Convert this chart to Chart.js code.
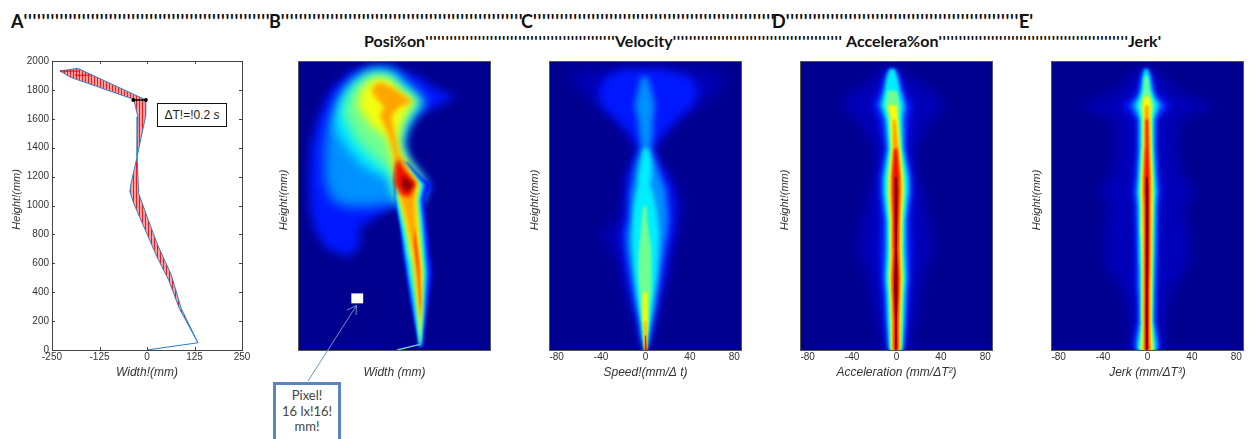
<!DOCTYPE html>
<html>
<head>
<meta charset="utf-8">
<title>Position, velocity, acceleration, jerk</title>
<script src="https://cdn.jsdelivr.net/npm/chart.js@4"></script>
<style>
  html, body { margin: 0; padding: 0; background: #fff; width: 1249px; height: 439px; overflow: hidden; }
  canvas { position: absolute; }
  .head { position: absolute; font-family: Lato, sans-serif; font-weight: 700; color: #111; white-space: pre; }
  .row1 { font-size: 18px; line-height: 20px; top: 11px; }
  .row2 { font-size: 16px; line-height: 20px; top: 31px; }
  .row1 span { letter-spacing: 0.68px; }
  .row2 span { letter-spacing: 0.66px; }
  #dtBox { position: absolute; left: 157px; top: 103px; width: 68px; height: 22px; border: 1px solid #111; background: #fff;
    font: 12px/22px "Liberation Sans", sans-serif; color: #222; text-align: center; white-space: pre; }
  #pixelBox { position: absolute; left: 273px; top: 382px; width: 62px; height: 60px; border: 3px solid #5b85bd; background: #fff;
    font: 13px/15.5px Lato, sans-serif; color: #444; text-align: center; padding-top: 3px; }
  svg { position: absolute; left: 0; top: 0; }
</style>
</head>
<body>
<canvas id="widthChart" width="248" height="329" style="left:10px;top:51px"></canvas>
<canvas id="positionChart" width="219" height="329" style="left:277px;top:51px"></canvas>
<canvas id="velocityChart" width="219" height="329" style="left:528px;top:51px"></canvas>
<canvas id="accelerationChart" width="220" height="329" style="left:778px;top:51px"></canvas>
<canvas id="jerkChart" width="219" height="329" style="left:1030px;top:51px"></canvas>
<div id="heads"></div>
<div id="dtBox">ΔT!=!0.2 <i>s</i></div>
<svg width="1249" height="439">
  <path d="M308 381 L356.5 305.5 M347 310 L356.5 305.5 L356 315" fill="none" stroke="#6a93c6" stroke-width="1"/>
</svg>
<div id="pixelBox">Pixel!<br>16 lx!16!<br>mm!</div>

<script>
// header text, garbled quote runs are in the source picture too
const row1Labels = ["A", "B", "C", "D", "E"];
const row1Starts = [11, 269, 521, 772, 1019];
const row1Quotes = [55, 54, 54, 53, 1];
const row2Labels = ["Posi%on", "Velocity", "Accelera%on", "Jerk"];
const row2Starts = [364, 615, 846, 1128];
const row2Quotes = [47, 42, 47, 1];

// panel A, outline of the trajectory band
const rightX = [0, 134, 90, 64, 28, 0, -22, -26, -17, -3, -3, -182, -229];
const rightY = [0, 50, 288, 519, 727, 923, 1084, 1338, 1453, 1626, 1730, 1949, 1931];
const leftX = [-229, -201, -35, -24, -26, -42, -45, -35, 26, 57, 85, 134];
const leftY = [1931, 1887, 1735, 1615, 1338, 1153, 1096, 1015, 646, 484, 288, 50];
const spanX = [-36, -3];
const spanY = [1730, 1730];
const tipRedX = [-229, -178];
const tipRedY = [1930, 1930];
const tipRed2X = [-190, -148];
const tipRed2Y = [1902, 1902];

// panel B, soft contour levels of the upper body (mm)
const bBlueX = [-122, -178, -209, -222, -224, -220, -200, -165, -117, -56, -4, 57, 110, 162, 105, 57, 31, 27, 40, 79, 96, 79, -4, -91, -91];
const bBlueY = [647, 705, 832, 994, 1179, 1410, 1618, 1815, 1931, 1977, 1965, 1907, 1815, 1757, 1688, 1630, 1503, 1410, 1295, 1191, 1156, 1040, 994, 855, 717];
const bAzureX = [-126, -165, -183, -183, -174, -139, -91, -48, -4, 31, 83, 57, 31, 18, 35, 75, 79, 70, 0, -56];
const bAzureY = [994, 1040, 1179, 1387, 1572, 1780, 1907, 1954, 1942, 1850, 1711, 1653, 1549, 1433, 1295, 1179, 1133, 1040, 1017, 994];
const bCyanX = [-17, -82, -126, -157, -148, -109, -56, -8, 22, 75, 53, 27, 14, 31, 70, 75, 66, 5];
const bCyanY = [1191, 1272, 1410, 1549, 1711, 1861, 1937, 1931, 1850, 1722, 1665, 1549, 1433, 1306, 1179, 1144, 1040, 1040];
const bGreenX = [-8, -48, -100, -135, -118, -70, -13, 18, 64, 48, 22, 12, 29, 66, 70, 62, 9];
const bGreenY = [1225, 1318, 1457, 1642, 1800, 1915, 1896, 1815, 1722, 1676, 1561, 1433, 1318, 1179, 1144, 1040, 1040];
const bYellowX = [0, -21, -60, -95, -90, -55, -17, 14, 57, 40, 18, 9, 22, 62, 64, 57, 14];
const bYellowY = [1272, 1480, 1550, 1690, 1800, 1890, 1890, 1803, 1722, 1688, 1572, 1433, 1341, 1179, 1144, 1040, 1040];

// panel B, sharper stem below the hips, left and right edge per height
const stemRows = [25, 230, 350, 530, 600, 670, 760, 855, 1040, 1150, 1200, 1300];
const stemBlueL = [64, 50, 40, 30, 26, 22, 18, 16, 2, 0, 0, 8];
const stemBlueR = [75, 83, 90, 99, 96, 92, 90, 86, 79, 96, 70, 35];
const stemAzureL = [66, 52, 44, 34, 30, 26, 22, 18, 4, 2, 0, 8];
const stemAzureR = [70, 79, 83, 88, 86, 83, 80, 77, 70, 79, 62, 30];
const stemCyanL = [66, 55, 50, 38, 35, 30, 25, 18, 6, 4, 2, 10];
const stemCyanR = [68, 75, 78, 82, 80, 78, 76, 73, 66, 75, 58, 27];
const stemGreenL = [67, 60, 55, 44, 41, 35, 30, 24, 9, 7, 4, 10];
const stemGreenR = [68, 72, 74, 77, 75, 73, 71, 68, 62, 70, 54, 24];
const stemYellowL = [68, 64, 59, 53, 50, 43, 38, 31, 14, 10, 6, 12];
const stemYellowR = [68, 70, 71, 73, 71, 69, 66, 63, 57, 64, 50, 20];

const bOrangeX = [-61, -39, -4, 47, 14, -8, 0, 12, 57, 53, 59, 69, 69, 67, 57, 50, 35, 18, 0, 0, -17, -39, -26, -48];
const bOrangeY = [1815, 1861, 1822, 1722, 1688, 1630, 1503, 1364, 1168, 1040, 763, 532, 231, 139, 462, 670, 855, 1040, 1225, 1341, 1503, 1630, 1688, 1746];
const bRedX = [9, 27, 57, 40, 18, 0, 3];
const bRedY = [1329, 1248, 1156, 1064, 1075, 1156, 1272];
const bStemX = [53, 64, 69, 68, 61, 50];
const bStemY = [855, 624, 347, 208, 509, 740];
const bDarkX = [22, 50, 35, 20];
const bDarkY = [1214, 1151, 1098, 1133];
const bTailX = [7, 66];
const bTailY = [0, 39];
const pixelX = [-113, -82];
const pixelY = [324, 393];

// panel C, left and right edge of each level per height
const cRows = [0, 100, 200, 300, 400, 500, 600, 700, 800, 900, 1000, 1100, 1150, 1200, 1300, 1400, 1500, 1600, 1700, 1800, 1900, 1950];
const cDimL = [-0.8, -6.2, -9, -13.1, -15.9, -20.1, -22.9, -29.9, -39.7, -24.3, -20.1, -18.7, -17.3, -17.3, -11.7, -6.2, -15.9, -27.1, -41.1, -55.1, -64.9, -53.7];
const cDimR = [1.4, 5.9, 9.2, 12, 15.4, 17.6, 20.4, 23.2, 26, 28.8, 30.2, 30.2, 23.2, 21.8, 10.6, 6.4, 17.6, 28.8, 45.6, 62.4, 68, 54];
const cBlueL = [-0.6, -4.2, -6.2, -9.8, -12.6, -15.4, -17.3, -18.7, -20.1, -17.3, -15.9, -15.4, -15.4, -14.5, -10.3, -5.3, -13.1, -24.3, -36.9, -39.7, -32.7, -18.7];
const cBlueR = [0.8, 4.2, 7, 9.8, 12.6, 15.4, 17.6, 19.9, 23.2, 24.6, 24.6, 23.2, 20.4, 19, 10.6, 5.9, 14.8, 26, 40, 44.2, 37.2, 14.8];
const cAzureL = [-0.3, -3.1, -4.8, -7.6, -9.8, -11.7, -13.7, -15.4, -15.9, -13.7, -13.1, -12.6, -10.9, -10.3, -8.1, -3.4, -5.3, -6.2, -9, -6.2, -3.4];
const cAzureR = [0.6, 3.1, 5.3, 8.1, 9.8, 12, 13.7, 15.4, 17.6, 19, 18.2, 17.1, 15.4, 12.6, 8.7, 4.2, 5.9, 6.4, 7.8, 5, 1.4];
const cCyanL = [-0.3, -2.5, -3.9, -5.9, -7.6, -9.2, -10.3, -11.2, -11.5, -10.9, -9.8, -7.6, -6.2, -6.2, -4.2, -2];
const cCyanR = [0.6, 2.2, 4.2, 5.9, 7.6, 9.2, 10.3, 10.9, 11.5, 10.3, 8.7, 5.9, 3.6, 5, 5, 2.5];
const cGreenL = [-0.3, -2, -3.1, -4.2, -5, -5.9, -5.9, -5.3, -4.2, -3.1, -2];
const cGreenR = [0.6, 1.7, 2.8, 3.6, 4.8, 5.3, 5.3, 4.8, 3.1, 1.4, 0.8];
const cYellowL = [-0.8, -1.4, -2.2, -2.5, -2];
const cYellowR = [0.8, 1.1, 2, 2, 1.4];
const cOrangeL = [-1.2, -1.1, -0.8];
const cOrangeR = [1.2, 0.9, 0.6];
const cRedL = [-1, -0.5];
const cRedR = [1, 0.5];

// panel D, centre of the ridge and half width of each level
const dRows = [0, 200, 400, 500, 700, 900, 1100, 1200, 1400, 1600, 1700, 1800, 1900, 1950];
const dCenter = [-0.5, -0.5, -0.5, -0.5, -0.5, -0.5, -0.5, -0.5, -0.7, -2, -3.4, -3.6, -3.7, -3.7];
const dDim = [9.8, 16.8, 21.5, 23, 32, 28.5, 23, 18.7, 17.3, 32, 44.7, 33.5, 15.4, 7];
const dBlue = [7, 9.8, 11.5, 12.8, 13.7, 12.6, 14.5, 14.2, 9.8, 13, 16.8, 10.3, 6.7, 3.6];
const dAzure = [6.1, 7.8, 8.9, 10, 9.2, 8.9, 12, 11.7, 7.3, 8.4, 11.7, 7.8, 5, 2.5];
const dCyan = [5.3, 6.7, 7.5, 8.4, 7.3, 7.5, 10, 9.8, 5.9, 6.4, 8.9, 6.1, 3.9, 1.7];
const dGreen = [4.5, 5.2, 5.9, 6.7, 5.6, 5.9, 7.8, 7.5, 4.5, 4.5, 6.1, 3.9];
const dYellow = [3.6, 3.9, 4.7, 5.3, 4.5, 4.7, 6.1, 5.9, 3.6, 3.1, 3.6];
const dOrange = [3.1, 3.1, 3.6, 4.2, 3.4, 3.6, 4.7, 4.5, 2.5, 1.1];
const dRed = [2, 1.8, 2.7, 2.9, 2, 2.4, 3.2, 3.1, 1.3];
const dDark = [0.7, 0.7, 1.4, 1.5, 0.7, 1.1, 1.4, 0.8];

// panel E, same layout as D
const eRows = [0, 60, 200, 400, 600, 800, 1000, 1100, 1200, 1400, 1600, 1700, 1760, 1800, 1900, 1950];
const eCenter = [-0.5, -0.5, -0.5, -0.5, -0.5, -0.5, -0.5, -0.5, -0.5, -0.5, -0.5, -0.6, -0.7, -0.8, -1, -1.2];
const eDim = [16.8, 14, 15.4, 19.6, 36.4, 36.4, 30.8, 42, 30.8, 25.2, 28, 58.8, 36.4, 25.2, 14, 5.6];
const eBlue = [11.2, 11.2, 7.8, 8.4, 9, 9.8, 10.1, 11.8, 10.6, 8.4, 9, 21, 10.6, 7.8, 5, 2.8];
const eAzure = [9.5, 9, 6.2, 6.7, 7.3, 7.8, 8.4, 9.5, 8.4, 7, 7, 13.4, 7.6, 5.6, 3.6, 1.7];
const eCyan = [7.8, 7.3, 5, 5.3, 5.9, 6.4, 6.7, 7.6, 6.7, 5.6, 5.6, 9.2, 5.9, 4.2, 2.5, 0.8];
const eGreen = [6.4, 5.6, 4.2, 4.5, 4.8, 5.3, 5.6, 6.2, 5.6, 4.5, 4.2, 6.2, 3.9, 2.5, 1.4];
const eYellow = [5, 4.2, 3.4, 3.6, 3.9, 4.2, 4.5, 5, 4.5, 3.4, 3.1, 3.6, 2.2];
const eOrange = [3.4, 2.8, 2.5, 2.5, 2.8, 3.1, 3.4, 3.6, 3.4, 2.5, 2, 1.4];
const eRed = [2, 1.7, 1.7, 1.7, 1.8, 2, 2.2, 2.5, 2.2, 1.4, 1];
const eDark = [0.8, 0.8, 0.8, 0.8, 1, 1.1, 1.3, 1.3, 0.8];

// jet colours from the outer to the inner level
const jetDim = "#0000b8";
const jetBlue = "#0018ff";
const jetAzure = "#0090ff";
const jetCyan = "#00eeff";
const jetGreen = "#70ff90";
const jetYellow = "#f4ff10";
const jetOrange = "#ffa500";
const jetRed = "#f01000";
const jetDark = "#8a0000";
const jetBack = "#00008f";

// the speed axes run a bit past 80 in the picture, edges above were read on a +-80 frame
const axisReach = 86;
const xStretch = axisReach / 80;

function poly(xs, ys) {
  return xs.map((x, i) => ({ x: x, y: ys[i] }));
}

// polygon going up the left edge and back down the right edge
function band(rows, left, right) {
  const points = left.map((x, i) => ({ x: x, y: rows[i] }));
  for (let i = right.length - 1; i >= 0; i--) {
    points.push({ x: right[i], y: rows[i] });
  }
  return points;
}

function stretched(rows, left, right) {
  return band(rows, left.map((v) => v * xStretch), right.map((v) => v * xStretch));
}

function ridge(rows, center, half) {
  const left = half.map((h, i) => center[i] - h);
  const right = half.map((h, i) => center[i] + h);
  return stretched(rows, left, right);
}

function heatDataset(level, index) {
  return {
    data: level.points,
    showLine: true,
    fill: level.line ? false : "shape",
    backgroundColor: level.color,
    borderColor: level.line ? level.color : "transparent",
    borderWidth: level.line ? 1.5 : 0,
    pointRadius: 0,
    order: 100 - index,
  };
}

function fitScales(xOptions, yOptions, xHeight, yWidth) {
  xOptions.afterFit = (s) => { s.height = xHeight; s.paddingLeft = 0; s.paddingRight = 0; };
  yOptions.afterFit = (s) => { s.width = yWidth; s.paddingTop = 0; s.paddingBottom = 0; };
  return { x: xOptions, y: yOptions };
}

const tickFont = { family: "Liberation Sans", size: 10 };
const titleFontX = { family: "Liberation Sans", size: 12, style: "italic" };
const titleFontY = { family: "Liberation Sans", size: 11, style: "italic" };

function xAxis(min, max, step, ticksAt, label, showLabels) {
  return {
    type: "linear", min: min, max: max,
    grid: { display: false, drawTicks: false }, border: { display: false },
    afterBuildTicks: (s) => { s.ticks = ticksAt.map((v) => ({ value: v })); },
    ticks: { display: showLabels, stepSize: step, maxRotation: 0, padding: 1, color: "#333", font: tickFont, callback: (v) => String(v) },
    title: { display: true, text: label, color: "#333", font: titleFontX, padding: 0 },
  };
}

function yAxis(label, showLabels) {
  return {
    type: "linear", min: 0, max: 2000,
    grid: { display: false, drawTicks: false }, border: { display: false },
    ticks: { display: showLabels, stepSize: 200, padding: 3, color: "#333", font: tickFont, callback: (v) => String(v) },
    title: { display: true, text: label, color: "#333", font: titleFontY, padding: 0 },
  };
}

// no-break spaces lift the rotated title a little above the plot centre, as in the picture
const heightLabel = "\u00a0\u00a0\u00a0\u00a0Height!(mm)";

function heatChart(id, xOptions, yWidth, levels, blurs, extras) {
  const blurOf = (i) => "blur(" + blurs[Math.min(i, blurs.length - 1)] + "px)";
  const heatPlugin = {
    id: "heat",
    beforeDatasetsDraw(chart) {
      const a = chart.chartArea;
      const ctx = chart.ctx;
      ctx.save();
      ctx.fillStyle = jetBack;
      ctx.fillRect(a.left, a.top, a.width, a.height);
      ctx.filter = blurOf(0);
    },
    afterDatasetDraw(chart, args) {
      // levels are painted outer first, so this readies the next one
      chart.ctx.filter = blurOf(args.index + 1);
    },
    afterDatasetsDraw(chart) {
      const a = chart.chartArea;
      const ctx = chart.ctx;
      ctx.restore();
      if (extras) extras(chart);
      ctx.strokeStyle = "#555";
      ctx.lineWidth = 1;
      ctx.strokeRect(a.left - 0.5, a.top - 0.5, a.width + 1, a.height + 1);
    },
  };
  new Chart(document.getElementById(id), {
    type: "scatter",
    data: { datasets: levels.map((l, i) => heatDataset(l, i)) },
    options: {
      responsive: false,
      animation: false,
      layout: { padding: { top: 11, right: 6 } },
      plugins: { legend: { display: false }, tooltip: { enabled: false } },
      scales: fitScales(xOptions, yAxis(heightLabel, false), 30, yWidth),
    },
    plugins: [heatPlugin],
  });
}

// striped red fill of panel A
function stripePattern() {
  const c = document.createElement("canvas");
  c.width = 3;
  c.height = 3;
  const g = c.getContext("2d");
  g.fillStyle = "#ffa0a0";
  g.fillRect(0, 0, 3, 3);
  g.fillStyle = "#f01818";
  g.fillRect(0, 0, 1, 3);
  return g.createPattern(c, "repeat");
}

function WidthChart() {
  function lineSet(points, color, width, order) {
    return { data: points, showLine: true, borderColor: color, borderWidth: width, pointRadius: 0, order: order };
  }
  const frame = {
    id: "frame",
    afterDraw(chart) {
      const { left, right, top, bottom } = chart.chartArea;
      const ctx = chart.ctx;
      ctx.save();
      ctx.strokeStyle = "#444";
      ctx.lineWidth = 1;
      ctx.strokeRect(left + 0.5, top + 0.5, right - left, bottom - top);
      ctx.beginPath();
      chart.scales.x.ticks.forEach((t) => {
        const px = Math.round(chart.scales.x.getPixelForValue(t.value)) + 0.5;
        ctx.moveTo(px, top); ctx.lineTo(px, top + 3);
        ctx.moveTo(px, bottom); ctx.lineTo(px, bottom - 3);
      });
      chart.scales.y.ticks.forEach((t) => {
        const py = Math.round(chart.scales.y.getPixelForValue(t.value)) + 0.5;
        ctx.moveTo(left, py); ctx.lineTo(left + 3, py);
        ctx.moveTo(right, py); ctx.lineTo(right - 3, py);
      });
      ctx.stroke();
      ctx.restore();
    },
  };
  const outline = poly(rightX, rightY).concat(poly(leftX, leftY));
  const spanSet = lineSet(poly(spanX, spanY), "#000", 1.5, 1);
  spanSet.pointRadius = 1.2;
  spanSet.pointBackgroundColor = "#000";
  new Chart(document.getElementById("widthChart"), {
    type: "scatter",
    data: {
      datasets: [
        spanSet,
        lineSet(poly(tipRedX, tipRedY), "#f00000", 1, 2),
        lineSet(poly(tipRed2X, tipRed2Y), "#f00000", 1, 2),
        lineSet(poly(rightX, rightY), "#2a7fc8", 1, 3),
        lineSet(poly(leftX, leftY), "#2a7fc8", 1, 3),
        {
          data: outline, showLine: true, fill: "shape", backgroundColor: stripePattern(),
          borderColor: "transparent", borderWidth: 0, pointRadius: 0, order: 4,
        },
      ],
    },
    options: {
      responsive: false,
      animation: false,
      layout: { padding: { top: 10, right: 16 } },
      plugins: { legend: { display: false }, tooltip: { enabled: false } },
      scales: fitScales(
        xAxis(-250, 250, 125, [-250, -125, 0, 125, 250], "Width!(mm)", true),
        yAxis(heightLabel, true),
        30, 42
      ),
    },
    plugins: [frame],
  });
}

function writeHeads() {
  const holder = document.getElementById("heads");
  function add(label, quotes, left, cls) {
    const d = document.createElement("div");
    d.className = "head " + cls;
    d.style.left = left + "px";
    d.textContent = label;
    const run = document.createElement("span");
    run.textContent = "'".repeat(quotes);
    d.appendChild(run);
    holder.appendChild(d);
  }
  row1Labels.forEach((l, i) => add(l, row1Quotes[i], row1Starts[i], "row1"));
  row2Labels.forEach((l, i) => add(l, row2Quotes[i], row2Starts[i], "row2"));
}

function drawPixel(chart) {
  const x = chart.scales.x;
  const y = chart.scales.y;
  const ctx = chart.ctx;
  ctx.fillStyle = "#fff";
  ctx.fillRect(x.getPixelForValue(pixelX[0]), y.getPixelForValue(pixelY[1]),
    x.getPixelForValue(pixelX[1]) - x.getPixelForValue(pixelX[0]),
    y.getPixelForValue(pixelY[0]) - y.getPixelForValue(pixelY[1]));
}

const speedTicks = [-80, -40, 0, 40, 80];
const ridgeBlurs = [6, 3, 2, 1.5, 1.2, 1, 1, 0.8, 0.6];

writeHeads();
WidthChart();

heatChart("positionChart", xAxis(-250, 250, 125, [], "Width (mm)", false), 22, [
  { points: poly(bBlueX, bBlueY), color: jetBlue },
  { points: poly(bAzureX, bAzureY), color: jetAzure },
  { points: poly(bCyanX, bCyanY), color: jetCyan },
  { points: poly(bGreenX, bGreenY), color: jetGreen },
  { points: poly(bYellowX, bYellowY), color: jetYellow },
  { points: band(stemRows, stemBlueL, stemBlueR), color: jetBlue },
  { points: band(stemRows, stemAzureL, stemAzureR), color: jetAzure },
  { points: band(stemRows, stemCyanL, stemCyanR), color: jetCyan },
  { points: band(stemRows, stemGreenL, stemGreenR), color: jetGreen },
  { points: band(stemRows, stemYellowL, stemYellowR), color: jetYellow },
  { points: poly(bOrangeX, bOrangeY), color: jetOrange },
  { points: poly(bRedX, bRedY), color: jetRed },
  { points: poly(bStemX, bStemY), color: "#ff5000" },
  { points: poly(bDarkX, bDarkY), color: jetDark },
  { points: poly(bTailX, bTailY), color: "#70d0a8", line: true },
], [5, 6, 6, 6, 5, 1.5, 1.5, 1.5, 1.5, 1.5, 2.5, 2, 1, 2, 0.4], drawPixel);

heatChart("velocityChart", xAxis(-axisReach, axisReach, 40, speedTicks, "Speed!(mm/Δ t)", true), 22, [
  { points: stretched(cRows, cDimL, cDimR), color: jetDim },
  { points: stretched(cRows, cBlueL, cBlueR), color: jetBlue },
  { points: stretched(cRows, cAzureL, cAzureR), color: jetAzure },
  { points: stretched(cRows, cCyanL, cCyanR), color: jetCyan },
  { points: stretched(cRows, cGreenL, cGreenR), color: jetGreen },
  { points: stretched(cRows, cYellowL, cYellowR), color: jetYellow },
  { points: stretched(cRows, cOrangeL, cOrangeR), color: jetOrange },
  { points: stretched(cRows, cRedL, cRedR), color: jetRed },
], [7, 4, 3, 2, 1.5, 1, 0.8, 0.6]);

heatChart("accelerationChart", xAxis(-axisReach, axisReach, 40, speedTicks, "Acceleration (mm/ΔT²)", true), 23, [
  { points: ridge(dRows, dCenter, dDim), color: jetDim },
  { points: ridge(dRows, dCenter, dBlue), color: jetBlue },
  { points: ridge(dRows, dCenter, dAzure), color: jetAzure },
  { points: ridge(dRows, dCenter, dCyan), color: jetCyan },
  { points: ridge(dRows, dCenter, dGreen), color: jetGreen },
  { points: ridge(dRows, dCenter, dYellow), color: jetYellow },
  { points: ridge(dRows, dCenter, dOrange), color: jetOrange },
  { points: ridge(dRows, dCenter, dRed), color: jetRed },
  { points: ridge(dRows, dCenter, dDark), color: jetDark },
], ridgeBlurs);

heatChart("jerkChart", xAxis(-axisReach, axisReach, 40, speedTicks, "Jerk (mm/ΔT³)", true), 22, [
  { points: ridge(eRows, eCenter, eDim), color: jetDim },
  { points: ridge(eRows, eCenter, eBlue), color: jetBlue },
  { points: ridge(eRows, eCenter, eAzure), color: jetAzure },
  { points: ridge(eRows, eCenter, eCyan), color: jetCyan },
  { points: ridge(eRows, eCenter, eGreen), color: jetGreen },
  { points: ridge(eRows, eCenter, eYellow), color: jetYellow },
  { points: ridge(eRows, eCenter, eOrange), color: jetOrange },
  { points: ridge(eRows, eCenter, eRed), color: jetRed },
  { points: ridge(eRows, eCenter, eDark), color: jetDark },
], ridgeBlurs);
</script>
</body>
</html>
